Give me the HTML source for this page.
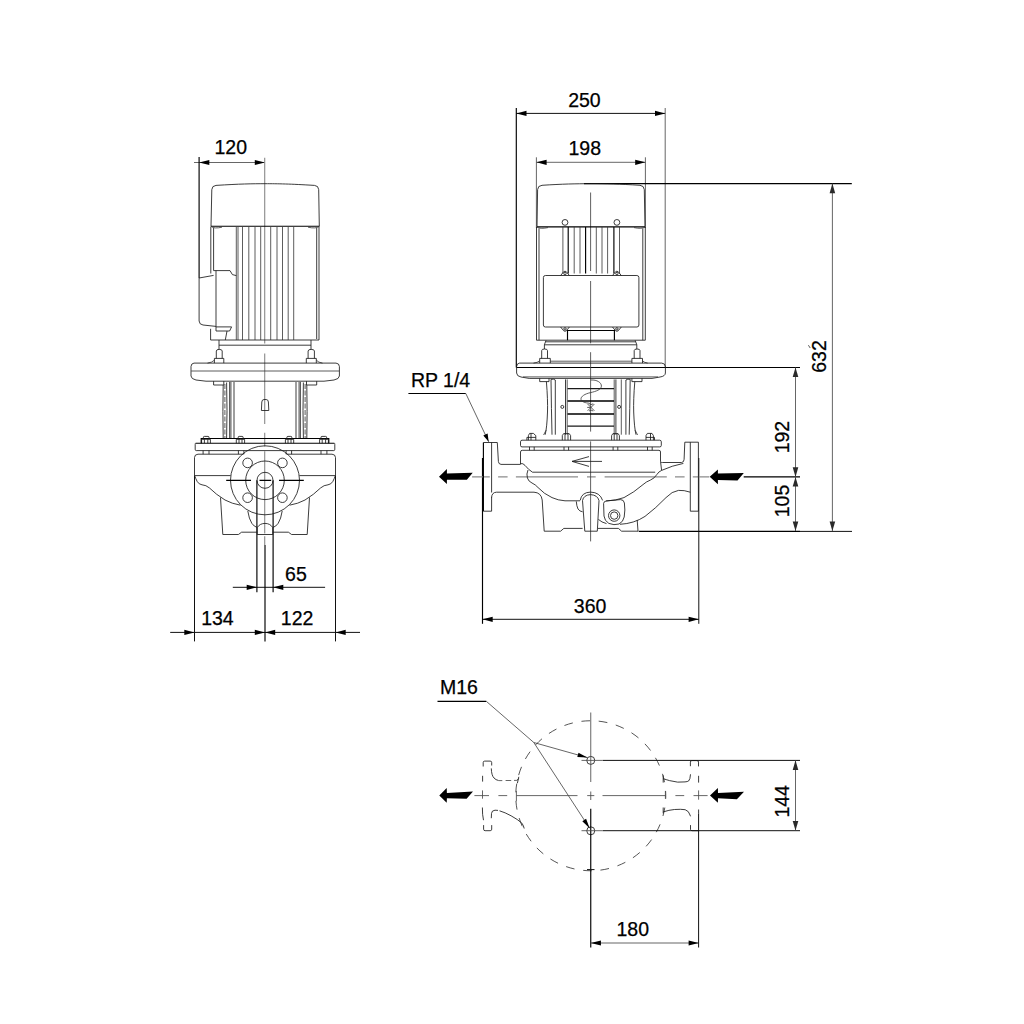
<!DOCTYPE html>
<html lang="en">
<head>
<meta charset="utf-8">
<title>Pump dimensional drawing</title>
<style>
html,body{margin:0;padding:0;background:#fff;}
body{width:1024px;height:1024px;overflow:hidden;}
svg{display:block;position:absolute;left:0;top:0;}
svg text{font-family:"Liberation Sans",sans-serif;font-size:19.5px;fill:#000;stroke:#000;stroke-width:0.25px;}
.l{fill:none;stroke:#1a1a1a;stroke-width:0.85;stroke-linecap:butt;stroke-linejoin:round;}
.t{fill:none;stroke:#333;stroke-width:0.8;}
.h{fill:none;stroke:#000;stroke-width:1.15;}
.d{fill:none;stroke:#111;stroke-width:1;}
.dv{fill:none;stroke:#4a4a4a;stroke-width:0.85;}
.av{fill:#2a2a2a;stroke:none;}
.c{fill:none;stroke:#666;stroke-width:0.9;}
.a{fill:#000;stroke:none;}
.ds{fill:none;stroke:#2a2a2a;stroke-width:0.8;}
</style>
</head>
<body>
<svg width="1024" height="1024" viewBox="0 0 1024 1024">
<rect x="0" y="0" width="1024" height="1024" fill="#fff"/>

<!-- ============ DIMENSIONS : LEFT VIEW ============ -->
<g id="dim-left">
<!--DIM-LEFT-->
<!-- 120 -->
<text x="230.8" y="154" text-anchor="middle">120</text>
<path class="dv" d="M194,162.5 H265"/>
<polygon class="a" points="199.1,162.5 209.3,159.9 209.3,165.1"/>
<polygon class="a" points="265,162.5 254.8,159.9 254.8,165.1"/>
<path class="h" d="M199.1,157 V278"/>
<!-- centre line (grey, dashed) -->
<path class="c" style="stroke:#8e8e8e;stroke-width:1.15" d="M264.7,157.8 V343.5 M264.7,353.5 V424 M264.7,432.8 V446.5 M264.7,451.3 V533.4 M264.7,536.3 V545"/>
<!-- 65 -->
<text x="295.9" y="581" text-anchor="middle">65</text>
<path class="d" d="M232.8,587.3 H325.1"/>
<polygon class="a" points="256.9,587.3 246.7,584.7 246.7,589.9"/>
<polygon class="a" points="273.1,587.3 283.3,584.7 283.3,589.9"/>
<path class="h" d="M256.9,480.3 V592.2 M273.1,480.3 V592.2"/>
<!-- 134 / 122 -->
<text x="217.4" y="625.2" text-anchor="middle">134</text>
<text x="297.1" y="625.2" text-anchor="middle">122</text>
<path class="d" d="M170.2,632.4 H360"/>
<polygon class="a" points="194.5,632.4 184.3,629.8 184.3,635"/>
<polygon class="a" points="265,632.4 254.8,629.8 254.8,635"/>
<polygon class="a" points="265,632.4 275.2,629.8 275.2,635"/>
<polygon class="a" points="335.5,632.4 345.7,629.8 345.7,635"/>
<path class="d" d="M194.5,476 V641.4 M335.5,476 V641.4"/>
<path class="h" d="M265,545 V641.4"/>
</g>

<!-- ============ LEFT VIEW GEOMETRY ============ -->
<g id="left-view">
<!--LEFT-VIEW-->
<!-- motor fan cover -->
<path class="l" d="M211,226.2 L211.8,189.6 Q212,185.7 216,185.4 C240,183.9 252,183.7 265,183.7 C278,183.7 290,183.9 314.5,185.4 Q318.5,185.7 318.7,189.6 L319.3,226.2"/>
<path class="h" d="M211,226.2 H319.3"/>
<path class="t" d="M211,226.4 Q214,229 222,227.2 M319.3,226.4 Q316,229 308,227.2"/>
<!-- motor body -->
<path class="l" d="M210.8,226.5 V273.5 M213.6,228 V270.6 M316.7,228 V339 M319,226.5 V340 M210.6,340 H319"/>
<path class="t" d="M236.3,227 V340 M238,227 V340 M242.5,227 V340 M248.8,227 V340 M255,227 V340 M260.7,227 V340 M270.7,227 V340 M277,227 V340 M282.5,227 V340 M288.2,227 V340 M293.7,227 V340"/>
<!-- terminal box -->
<path class="l" d="M199.1,278 L213.6,275.4 M199.1,278 V321 Q199.3,324.6 203,325 L216,326.4"/>
<path class="l" d="M213.6,270.6 H230 L232.4,274.6 L236.3,275.6 M216,270.6 V331 M216,326.9 H231.6 L229.6,331 H216"/>
<path class="l" d="M210.6,328.8 V340 M227,331 L225.3,340"/>
<!-- motor foot / spigot -->
<path class="l" d="M219,340 V349.5 M311,340 V349.5 M219,345.2 H311"/>
<!-- studs and nuts -->
<path class="l" d="M216.3,358.4 V351 Q216.3,349.4 219.2,349.4 Q222.2,349.4 222.2,351 V358.4 M214.4,363.1 V358.4 H223.8 V363.1"/>
<path class="l" d="M308.1,358.4 V351 Q308.1,349.4 311.2,349.4 Q314.4,349.4 314.4,351 V358.4 M306.3,363.1 V358.4 H316.3 V363.1"/>
<path class="t" d="M207.5,363.1 Q212,362.6 214.4,360.2 M322.5,363.1 Q318.5,362.6 316.3,360.2"/>
<!-- motor flange -->
<path class="l" d="M194,363.1 H336 Q339.3,363.3 339.4,366.5 V376 Q339.2,379 334,380 L324,381.2 H206 L196,380 Q191.2,379 191,376 V366.5 Q191.2,363.3 194,363.1 Z"/>
<path class="t" d="M191.2,371 H339.2"/>
<path class="l" d="M213.6,381.2 V385 H223.8 V381.2 M306.5,381.2 V385 H316.7 V381.2"/>
<!-- lantern columns -->
<path class="l" d="M223.2,385 Q222.6,411 223.2,438.4 M226.6,382.5 Q227.4,411 226.6,438.4 M230.9,382 V438.4 M234,382 V438.4"/>
<path class="t" d="M229.5,382 V438.4"/>
<path class="t" stroke-dasharray="5 1.5" d="M224.9,384 V438"/>
<path class="l" d="M306.8,385 Q307.4,411 306.8,438.4 M303.4,382.5 Q302.6,411 303.4,438.4 M299.1,382 V438.4 M296,382 V438.4"/>
<path class="t" d="M300.5,382 V438.4"/>
<path class="t" stroke-dasharray="5 1.5" d="M305.1,384 V438"/>
<!-- sensor / plug -->
<path class="l" d="M261.4,410.5 L261.8,402 Q262,399.5 264,399.5 H266.2 Q268.2,399.5 268.4,402 L268.8,410.5 Z"/>
<!-- pump head plates -->
<path class="h" d="M201.2,443.2 V438.5 H328.8 V443.2"/>
<path class="l" d="M203.4,439.3 V437.2 Q203.4,436.4 204.4,436.4 H208 Q209,436.4 209,437.2 V439.3 M201.6,443.2 V439.3 H210.4 V443.2 M204.4,439.3 V443.2 M207.8,439.3 V443.2"/>
<path class="l" d="M238.2,439.3 V437.2 Q238.2,436.4 239.2,436.4 H242.1 Q243.1,436.4 243.1,437.2 V439.3 M236.3,443.2 V439.3 H244.6 V443.2 M239,439.3 V443.2 M242,439.3 V443.2"/>
<path class="l" d="M286.9,439.3 V437.2 Q286.9,436.4 287.9,436.4 H290.8 Q291.8,436.4 291.8,437.2 V439.3 M285.4,443.2 V439.3 H293.7 V443.2 M288,439.3 V443.2 M291,439.3 V443.2"/>
<path class="l" d="M321,439.3 V437.2 Q321,436.4 322,436.4 H325.6 Q326.6,436.4 326.6,437.2 V439.3 M319.6,443.2 V439.3 H328.4 V443.2 M322.2,439.3 V443.2 M325.6,439.3 V443.2"/>
<path class="h" d="M195.6,443.2 H334.4"/>
<path class="l" d="M195.6,443.2 Q195.2,443.3 195.2,444.5 V449.3 Q195.2,450.6 196.2,450.6 H333.8 Q334.8,450.6 334.8,449.3 V444.5 Q334.8,443.3 334.4,443.2"/>
<path class="l" d="M203.1,450.6 V454.2 M209,450.6 V454.2 M238.4,450.6 V454.2 M243.9,450.6 V454.2 M286.1,450.6 V454.2 M291.6,450.6 V454.2 M321,450.6 V454.2 M326.9,450.6 V454.2"/>
<!-- pump housing -->
<path class="l" d="M194.5,476 V457.5 Q194.6,454.3 198,454.2 H243.5 M286.5,454.2 H332 Q335.4,454.3 335.5,457.5 V476"/>
<path class="l" d="M194.6,475.6 H230.6 M299.4,475.6 H335.4"/>
<path class="l" d="M194.7,475.8 Q195.6,478.5 197.2,481.5 Q199,484.5 202,484.8 Q206,485 209.5,488 Q216,494.5 225,500 Q232,503.8 240.5,505.2"/>
<path class="l" d="M335.3,475.8 Q334.4,478.5 332.8,481.5 Q331,484.5 328,484.8 Q324,485 320.5,488 Q314,494.5 305,500 Q298,503.8 289.5,505.2"/>
<path class="l" d="M220.5,497.5 L222.8,534.5 H238.4 L241.6,532.2 H257.2 M309.5,497.5 L307.2,534.5 H291.6 L288.4,532.2 H272.8"/>
<path class="l" d="M257.2,527.5 V534.5 H272.8 V527.5"/>
<path class="l" d="M247.8,511 Q249,519 251.8,523.3 Q254,526.6 257.2,527.5 Q260,523.4 265,523.4 Q270,523.4 272.8,527.5 Q276,526.6 278.2,523.3 Q281,519 282.2,511"/>
<!-- flange face -->
<circle class="l" cx="265" cy="480.3" r="34.5"/>
<circle class="l" cx="265" cy="480.3" r="19.3"/>
<circle class="l" cx="265" cy="480.3" r="8"/>
<circle class="l" cx="247.6" cy="462.9" r="4.8"/>
<circle class="l" cx="282.4" cy="462.9" r="4.8"/>
<circle class="l" cx="247.6" cy="497.7" r="4.8"/>
<circle class="l" cx="282.4" cy="497.7" r="4.8"/>
<path class="h" d="M226.2,480.3 H251 M259.5,480.3 H271.2 M279,480.3 H303.8"/>
</g>

<!-- ============ DIMENSIONS : RIGHT VIEW ============ -->
<g id="dim-right">
<!--DIM-RIGHT-->
<!-- 250 -->
<text x="584.4" y="106.8" text-anchor="middle">250</text>
<path class="d" d="M516.3,113.4 H665.2"/>
<polygon class="a" points="516.3,113.4 526.5,110.8 526.5,116"/>
<polygon class="a" points="665.2,113.4 655,110.8 655,116"/>
<path class="h" d="M516.3,108 V367.4"/>
<path class="dv" d="M665.2,108 V367.4"/>
<!-- 198 -->
<text x="584.8" y="154.6" text-anchor="middle">198</text>
<path class="dv" d="M536.4,162.3 H645.4"/>
<polygon class="a" points="536.4,162.3 546.6,159.7 546.6,164.9"/>
<polygon class="a" points="645.4,162.3 635.2,159.7 635.2,164.9"/>
<path class="dv" d="M536.4,157.3 V228 M645.4,157.3 V228"/>
<!-- horizontal extension lines -->
<path class="h" d="M584,183.6 H851.8 M516.7,367.5 H800 M743.7,476.9 H800 M638.7,531.4 H800"/>
<path class="d" d="M800,531.4 H852"/>
<!-- 192 / 105 -->
<path class="dv" d="M795.5,367.5 V531"/>
<polygon class="av" points="795.5,367.5 792.7,377.1 798.3,377.1"/>
<polygon class="av" points="795.5,476.9 792.7,467.3 798.3,467.3"/>
<polygon class="av" points="795.5,476.9 792.7,486.5 798.3,486.5"/>
<polygon class="av" points="795.5,531 792.7,521.4 798.3,521.4"/>
<text transform="translate(789,437.1) rotate(-90)" text-anchor="middle">192</text>
<text transform="translate(789,501) rotate(-90)" text-anchor="middle">105</text>
<!-- 632 -->
<path class="dv" d="M832.4,183.6 V531"/>
<polygon class="av" points="832.4,183.6 829.6,193.2 835.2,193.2"/>
<polygon class="av" points="832.4,531 829.6,521.4 835.2,521.4"/>
<text transform="translate(825.6,356.5) rotate(-90)" text-anchor="middle">632</text>
<path class="t" d="M808.4,345.2 L810.2,348"/>
<!-- 360 -->
<text x="590.1" y="613" text-anchor="middle">360</text>
<path class="d" d="M482.5,619.3 H698.8"/>
<polygon class="a" points="482.5,619.3 492.7,616.7 492.7,621.9"/>
<polygon class="a" points="698.8,619.3 688.6,616.7 688.6,621.9"/>
<path class="h" d="M482.5,458 V623.8"/>
<path class="d" d="M698.8,458 V623.8"/>
<!-- RP 1/4 -->
<text x="410.9" y="386.9">RP 1/4</text>
<path class="h" d="M408.4,393.5 H465.8"/>
<path class="dv" d="M465.8,393.5 L488.7,441.8"/>
<polygon class="a" points="488.7,441.8 483.3,435.6 487.6,433.6"/>
<!-- flow arrows -->
<polygon class="a" points="439,476.7 446.9,469.1 446.9,473.6 472.7,472.7 466.9,479.7 446.9,479.7 446.9,483.9"/>
<polygon class="a" points="709.7,476.7 717.9,469.4 717.9,473.6 743.8,473 737.5,480.4 717.9,479.9 717.9,484.2"/>
<path class="c" style="stroke:#8c8c8c;stroke-width:1.4" d="M472.1,476.85 H489.8 M498.1,476.85 H507.6 M515.9,476.85 H578 M587,476.85 H595.7 M604.6,476.85 H666.8 M675,476.85 H684.6 M692.8,476.85 H709.3"/>
</g>

<!-- ============ RIGHT VIEW GEOMETRY ============ -->
<g id="right-view">
<!--RIGHT-VIEW-->
<!-- centre line -->
<path class="l" style="stroke:#444" d="M590.6,192.5 V271 M590.6,281 V343.3 M590.6,352.2 V431.6 M590.6,441.4 V541.4"/>
<!-- motor fan cover -->
<path class="l" d="M537,226.8 L537.6,189.6 Q537.8,185.6 542,185.3 C562,184 576,183.7 590.6,183.7 C605,183.7 620,184 640,185.3 Q644,185.6 644.3,189.6 L645,226.8"/>
<path class="h" d="M537,226.8 H645"/>
<path class="t" d="M537,227 Q540,229.3 548,227.6 M645,227 Q642,229.3 634,227.6"/>
<circle class="l" cx="565" cy="222.4" r="2.9"/>
<circle class="l" cx="616.9" cy="222.4" r="2.9"/>
<!-- motor body -->
<path class="l" d="M536.5,227 V340.2 M539,228.5 V340.2 M642.8,228.5 V340.2 M645.3,227 V340.2 M536.5,340.2 H645.3"/>
<path class="t" d="M562.9,227 V273.5 M574.2,227 V273.5 M580,227 V273.5 M596.3,227 V273.5 M602,227 V273.5 M607.6,227 V273.5 M619.5,227 V273.5"/>
<path class="h" d="M568.2,227 V273.5 M585.6,227 V273.5 M613.9,227 V273.5"/>
<!-- terminal box -->
<rect class="l" x="543.4" y="275.5" width="95.5" height="51.5" rx="2" ry="2"/>
<path class="l" d="M560.6,275.5 L563.6,271.8 Q565,270.6 566.4,271.8 L569.4,275.5 M612.5,275.5 L615.5,271.8 Q616.9,270.6 618.3,271.8 L621.3,275.5"/>
<path class="l" d="M560.6,327 L563.6,330.7 Q565,331.9 566.4,330.7 L569.4,327 M612.5,327 L615.5,330.7 Q616.9,331.9 618.3,330.7 L621.3,327"/>
<circle class="l" cx="565" cy="273.6" r="1.2"/>
<circle class="l" cx="616.9" cy="273.6" r="1.2"/>
<circle class="l" cx="565" cy="328.9" r="1.2"/>
<circle class="l" cx="616.9" cy="328.9" r="1.2"/>
<path class="h" d="M567.5,340.2 V330.5 H614.4 V340.2"/>
<!-- spigot -->
<path class="l" d="M546,340.4 L544.4,344.8 V349 M635.2,340.4 L636.8,344.8 V349 M545.6,341.8 H635.6 M544.4,344.8 H636.8"/>
<!-- studs / nuts -->
<path class="l" d="M541.7,358.4 V350.6 Q541.7,349 544.6,349 Q547.5,349 547.5,350.6 V358.4 M539.7,363.1 V358.4 H550.3 V363.1"/>
<path class="l" d="M634.2,358.4 V350.6 Q634.2,349 637.1,349 Q640,349 640,350.6 V358.4 M631.9,363.1 V358.4 H642.5 V363.1"/>
<path class="t" d="M533.5,363.1 Q537.5,362.8 539.7,360.8 M647.7,363.1 Q644.5,362.8 642.5,360.8 M550.3,361.2 H631.9"/>
<!-- motor flange -->
<path class="l" d="M519.5,363.1 H661.7 Q665.3,363.3 665.4,366.5 V373 Q665.2,376.3 660,377 L652,378.4 H529.2 L521,377 Q516.8,376.3 516.6,373 V366.5 Q516.8,363.3 519.5,363.1 Z"/>
<path class="t" d="M523,376.9 H658"/>
<path class="l" d="M539.7,378.4 V381.6 H549 V378.4 M631.9,378.4 V381.6 H642 V378.4"/>
<!-- lantern -->
<path class="l" d="M546.4,381.6 Q547.9,400 547.5,412 Q547,427 545.2,434.7 M551,379.4 Q551.4,410 552,434.7 M551,379.4 Q553.5,378.6 555.3,380 V434.7 M565.5,379.4 V434.7"/>
<path class="l" d="M634.8,381.6 Q633.3,400 633.7,412 Q634.2,427 636,434.7 M630.2,379.4 Q629.8,410 629.2,434.7 M630.2,379.4 Q627.7,378.6 625.9,380 V434.7 M615.9,379.4 V434.7"/>
<path class="t" d="M567.2,379.4 V434.7 M621.3,379.4 V434.7 M614.2,379.4 V434.7"/>
<path class="t" d="M543.6,435 L546.2,430 M637.6,435 L635,430"/>
<!-- coupling guard slots -->
<path class="l" style="stroke-width:1.3" d="M567.5,388.6 H614 M567.5,426.1 H614"/>
<path class="h" style="stroke-width:1.5" d="M567.5,401.1 H614 M567.5,414.1 H614"/>
<circle class="l" cx="562.3" cy="406.9" r="1.5"/>
<circle class="l" cx="619.1" cy="406.9" r="1.5"/>
<!-- break line -->
<path class="t" d="M590.8,380 C597,379.6 601.6,382.6 601.4,386.2 C601.2,389.6 596,391.4 590.6,392.6 C585,393.8 580.6,396.4 581,399.3 C581.4,401.8 585.5,403 589.5,403.2"/>
<!-- small logo -->
<path class="t" d="M587.6,404 L594.4,410.8 M594.4,404 L587.6,410.8 M587.2,407.4 H590 M589,403.6 Q591,405.6 593.2,403.8 M589,411 Q591,409.2 593.2,411"/>
<!-- pump head plates -->
<path class="l" d="M528.4,440.2 V435.6 L529.6,433.4 H533.4 L535.8,435.6 V440.2 M526.9,440.2 V437.4 H535.8 M531,433.4 V440.2"/>
<path class="l" d="M562.3,440.2 V435.6 L563.6,433.6 H569.2 L570.6,435.6 V440.2 M565,433.6 V440.2 M568,433.6 V440.2"/>
<path class="l" d="M611.6,440.2 V435.6 L612.9,433.6 H618.1 L619.4,435.6 V440.2 M614.2,433.6 V440.2 M617,433.6 V440.2"/>
<path class="l" d="M646,440.2 V435.6 L647.4,433.4 H652 L653.4,435.6 V440.2 M654.5,440.2 V437.4 H646 M650.5,433.4 V440.2"/>
<path class="l" d="M522,440.2 H659.8 Q661.3,440.3 661.3,441.8 V445.4 Q661.3,446.9 659.8,446.9 H522 Q520.5,446.9 520.5,445.4 V441.8 Q520.5,440.3 522,440.2 Z"/>
<path class="l" d="M529.5,446.9 V450.3 M534.2,446.9 V450.3 M564,446.9 V450.3 M568.6,446.9 V450.3 M613.1,446.9 V450.3 M617.8,446.9 V450.3 M647.5,446.9 V450.3 M652.2,446.9 V450.3"/>
<!--PUMP-BODY-->
<!-- left flange -->
<path class="h" d="M483.4,442.5 V511.2"/>
<path class="l" d="M483.4,442.5 H497.3 M491.6,442.5 V492.5 M491.6,496.9 V511.2 M483.4,511.2 H491.6"/>
<path class="l" d="M497.3,442.5 L498.4,461.5 Q498.6,464.2 501,464.4 H520.4"/>
<path class="l" d="M491.6,497.5 Q491.8,492.4 496.5,492.2 H534 Q541.2,492.6 542.2,500 L544.2,531.2"/>
<!-- housing upper part -->
<path class="l" d="M520.5,464.4 V452 Q520.6,450.3 522.2,450.3 H659 Q660.5,450.3 660.5,452 V461.7"/>
<path class="l" d="M520.5,463.6 Q523,463 525,465.4 Q528.5,469.8 532.5,472.2 H655.2"/>
<path class="l" d="M528,470 Q526.2,474 527.4,478 Q528.6,481.6 532,483 Q535.5,484.6 538,487.5 Q544,494 552,497.6 Q558,500.4 565,500.8 H580"/>
<!-- base -->
<path class="l" d="M544.2,531.2 H560.6 L563.8,528.4 H582.6 M598,528.4 H618.4 L621.6,531.2 H638 L637.2,520"/>
<!-- drain plug -->
<path class="l" d="M580.2,500.4 Q581.5,492.3 590.5,492.1 Q600,492.3 602.6,500.4"/>
<path class="l" d="M582.5,500.6 Q583.6,495 590.5,494.6 Q597.6,495 599,500.6 M582.5,500.6 L584.8,531.2 H597.3 L599,500.6"/>
<path class="l" d="M576.3,501.4 Q576.6,506 578,509 Q579.6,511.4 582.6,511.8"/>
<!-- boss -->
<path class="l" d="M603.6,503.5 Q603.8,501.2 606.5,500.9 L620.5,499.6 Q623.8,499.6 624.4,503 Q625.4,510 624.2,517 Q623.2,522 619,524 Q614,525.6 608.8,523.4 Q604.6,521 604,516 Z"/>
<circle class="l" cx="614.2" cy="515.6" r="5.7"/>
<circle class="l" cx="614.2" cy="515.6" r="3.7"/>
<!-- right neck and flange -->
<path class="l" d="M660.5,461.7 Q661,462.5 662.4,462.5 H681.5 Q684,462.3 684.1,459.4 L684.8,442.2 H698.4 M690.3,442.2 V511.2 H698.4 V442.2"/>
<path class="l" d="M660.6,462 L661.6,470.4 Q672,465.6 683.4,463.4"/>
<path class="l" d="M661.6,470.4 Q658.6,471.6 656.8,474.6 Q654.5,478.4 650.5,480 Q646,481.8 643,484.6 Q634,492.4 624,497.6 Q616,500.6 606,501"/>
<path class="l" d="M690.3,492.2 Q684,490 678.5,490.4 Q672,491.2 666,497.6 Q656,508 645,516.4 Q634,523.6 620,524.3"/>
<path class="l" d="M598.4,519.4 Q601.6,522.4 606.5,523.6"/>
<!-- flow direction arrow -->
<path class="l" d="M589,456.6 L572,461.4 L589,466.4 M572,461.4 H602"/>
</g>

<!-- ============ BOTTOM VIEW ============ -->
<g id="bottom-view">
<!--BOTTOM-VIEW-->
<!-- M16 leader -->
<text x="439.9" y="694.2">M16</text>
<path class="h" d="M437.5,701.3 H486.3"/>
<path class="dv" d="M486.3,701.3 L533.8,742.5 L589.6,828.2 M533.8,742.5 L587.4,757.6"/>
<polygon class="a" points="587.4,757.6 577.3,757.1 578.5,752.7"/>
<polygon class="a" points="589.6,828.2 582.3,821.2 586.1,818.7"/>
<!-- pitch circle -->
<circle class="ds" cx="590.75" cy="795.75" r="75" stroke-dasharray="8.7 8.753" stroke-dashoffset="5.6"/>
<!-- foundation holes -->
<circle class="l" cx="590.75" cy="760.4" r="4"/>
<circle class="l" cx="590.75" cy="830.8" r="4"/>
<!-- centre lines -->
<path class="dv" d="M590.75,712.5 V782 M590.75,791.5 V800 M587.2,795.6 H594.3"/>
<path class="h" d="M590.75,808.7 V947.5"/>
<path class="d" d="M587,869.6 H594.5"/>
<path class="dv" d="M516.4,795.6 H577.5 M602.5,795.6 H665.6 M665.4,790.9 V798.8 M516.4,790.9 V801.2"/>
<path class="dv" d="M474.4,795.6 H489 M498.4,795.6 H507.2 M675.4,795.6 H684.2 M693.5,795.6 H707.6 M482.5,790.4 V798.7 M698.6,790.4 V799.7"/>
<!-- left flange (hidden) -->
<path class="l" d="M483.2,766.5 V762.6 Q483.2,761.1 484.7,761.1 H490.2 Q491.7,761.1 491.7,762.6 V765.5 M482.6,775.8 V781.6 M482.4,807.5 L482.6,814.3 L483.5,820.2 M483.6,825.1 V829.2 Q483.6,830.7 485.1,830.7 H490.2 Q491.7,830.7 491.7,829.2 V825.1"/>
<path class="l" d="M491.3,768.4 Q491.5,775.4 494,778 Q495.8,780 498.6,780.5"/>
<path class="c" style="stroke-width:1" d="M498.6,780.6 H502.3 M505.6,780.5 H511.2 M514,780.4 H516.5"/>
<path class="l" d="M516.5,780.4 Q518,780 518.6,778.6 M518.8,776.8 L517.4,783.2"/>
<path class="l" d="M491.3,818.2 L491.5,813.4 Q491.7,810.4 495,810.2 L498,810.4 M499.5,810.8 Q505,812.4 511.1,815.8 Q518,819.6 521.8,823.1 Q523.6,825.4 524.2,828.5"/>
<!-- right flange (hidden) -->
<path class="l" d="M690.4,766.2 V762.1 Q690.4,760.6 691.9,760.6 H697 Q698.5,760.6 698.5,762.1 V766.4 M698.6,775.8 V782.6 M698.6,809.5 V813.4"/>
<path class="l" d="M690.5,774.3 Q690.2,779.6 688.6,781 Q687.6,781.7 685,781.9 Q678,783 669.5,780.6 Q666,779.6 663.2,778.7 M663.2,775.3 V782.6"/>
<path class="l" d="M663.2,807.5 V813.4 M663.2,811.9 Q669,810 674.4,809.5 Q681,809 685.2,809.7 Q689,811 690,815 L690.5,816.3 M690.5,825.1 V829.4 Q690.6,830.6 692,830.7 H698.6"/>
<!-- 144 -->
<path class="d" d="M602.8,760.4 H800 M602.8,830.7 H800"/>
<path class="dv" d="M581.5,760.4 H602.8 M581.5,830.7 H602.8"/>
<path class="dv" d="M795.5,760.3 V830.5"/>
<polygon class="av" points="795.5,760.3 792.7,769.9 798.3,769.9"/>
<polygon class="av" points="795.5,830.5 792.7,820.9 798.3,820.9"/>
<text transform="translate(789.1,801.3) rotate(-90)" text-anchor="middle">144</text>
<!-- 180 -->
<text x="632.8" y="935.8" text-anchor="middle">180</text>
<path class="dv" d="M590.75,943 H698.8"/>
<polygon class="a" points="590.75,943 600.95,940.4 600.95,945.6"/>
<polygon class="a" points="698.8,943 688.6,940.4 688.6,945.6"/>
<path class="d" d="M698.6,813.4 V947.5"/>
<!-- flow arrows -->
<polygon class="a" points="439.3,795.5 446.7,788 446.9,793 473,791.4 466.6,798.7 446.9,798.2 446.7,802.7"/>
<polygon class="a" points="710,795.5 717.9,788 718,793 744,791.7 736.9,799.2 718,798.2 717.9,802.8"/>
</g>

</svg>
</body>
</html>
